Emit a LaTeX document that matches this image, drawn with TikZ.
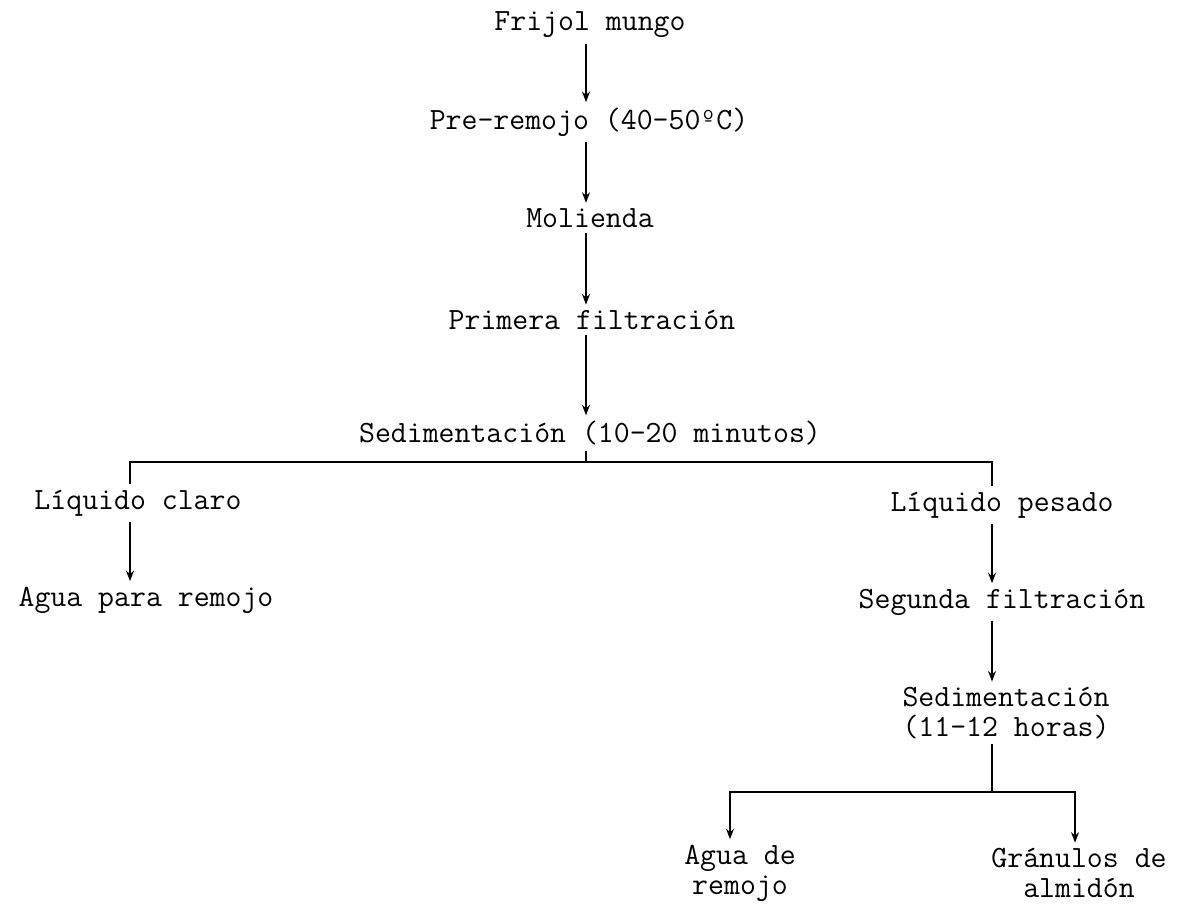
\documentclass[tikz,border=0pt]{standalone}
\usepackage{fontspec}
\usetikzlibrary{arrows.meta}

\begin{document}
\begin{tikzpicture}[x=0.02cm, y=-0.02cm,
	paso/.style={font=\ttfamily\fontsize{17.6}{17}\selectfont, inner sep=3pt, align=center},
	flecha/.style={-{Stealth[length=6pt, width=4.5pt]}, line width=1pt}]
	\useasboundingbox (0,0) rectangle (1186,904);
	% columna central
	\node[paso] (frijol) at (590,25) {Frijol mungo};
	\node[paso] (preremojo) at (589,122) {Pre-remojo (40-50ºC)};
	\node[paso] (molienda) at (590,218) {Molienda};
	\node[paso] (primera) at (592,320) {Primera filtración};
	\node[paso] (sedA) at (590,433) {Sedimentación (10-20 minutos)};
	% ramas
	\node[paso] (claro) at (138,503) {Líquido claro};
	\node[paso] (aguaA) at (146,600) {Agua para remojo};
	\node[paso] (pesado) at (1002,505) {Líquido pesado};
	\node[paso] (segunda) at (1002,602) {Segunda filtración};
	\node[paso] (sedB) at (1006,713) {Sedimentación\\(11-12 horas)};
	\node[paso] (aguaB) at (740,873) {Agua de\\remojo};
	\node[paso] (granulos) at (1079,873) {Gránulos de\\almidón};
	\coordinate (c) at (586,0);
	\coordinate (bA) at (586,462);
	\coordinate (bAl) at (130,462);
	\coordinate (bAr) at (992,462);
	\coordinate (bB) at (992,792);
	\coordinate (bBl) at (730,792);
	\coordinate (bBr) at (1075,792);
	\draw[flecha] (c |- frijol.south) -- (c |- preremojo.north);
	\draw[flecha] (c |- preremojo.south) -- (c |- molienda.north);
	\draw[flecha] (c |- molienda.south) -- (c |- primera.north);
	\draw[flecha] (c |- primera.south) -- (c |- sedA.north);
	\draw[line width=1pt] (c |- sedA.south) -- (bA);
	\draw[line width=1pt] (bAl |- claro.north) -- (bAl) -- (bAr) -- (bAr |- pesado.north);
	\draw[flecha] (bAl |- claro.south) -- (bAl |- aguaA.north);
	\draw[flecha] (bAr |- pesado.south) -- (bAr |- segunda.north);
	\draw[flecha] (bAr |- segunda.south) -- (bAr |- sedB.north);
	\draw[line width=1pt] (bB |- sedB.south) -- (bB);
	\draw[flecha] (bB) -- (bBl) -- (bBl |- aguaB.north);
	\draw[flecha] (bB) -- (bBr) -- (bBr |- granulos.north);
\end{tikzpicture}
\end{document}
